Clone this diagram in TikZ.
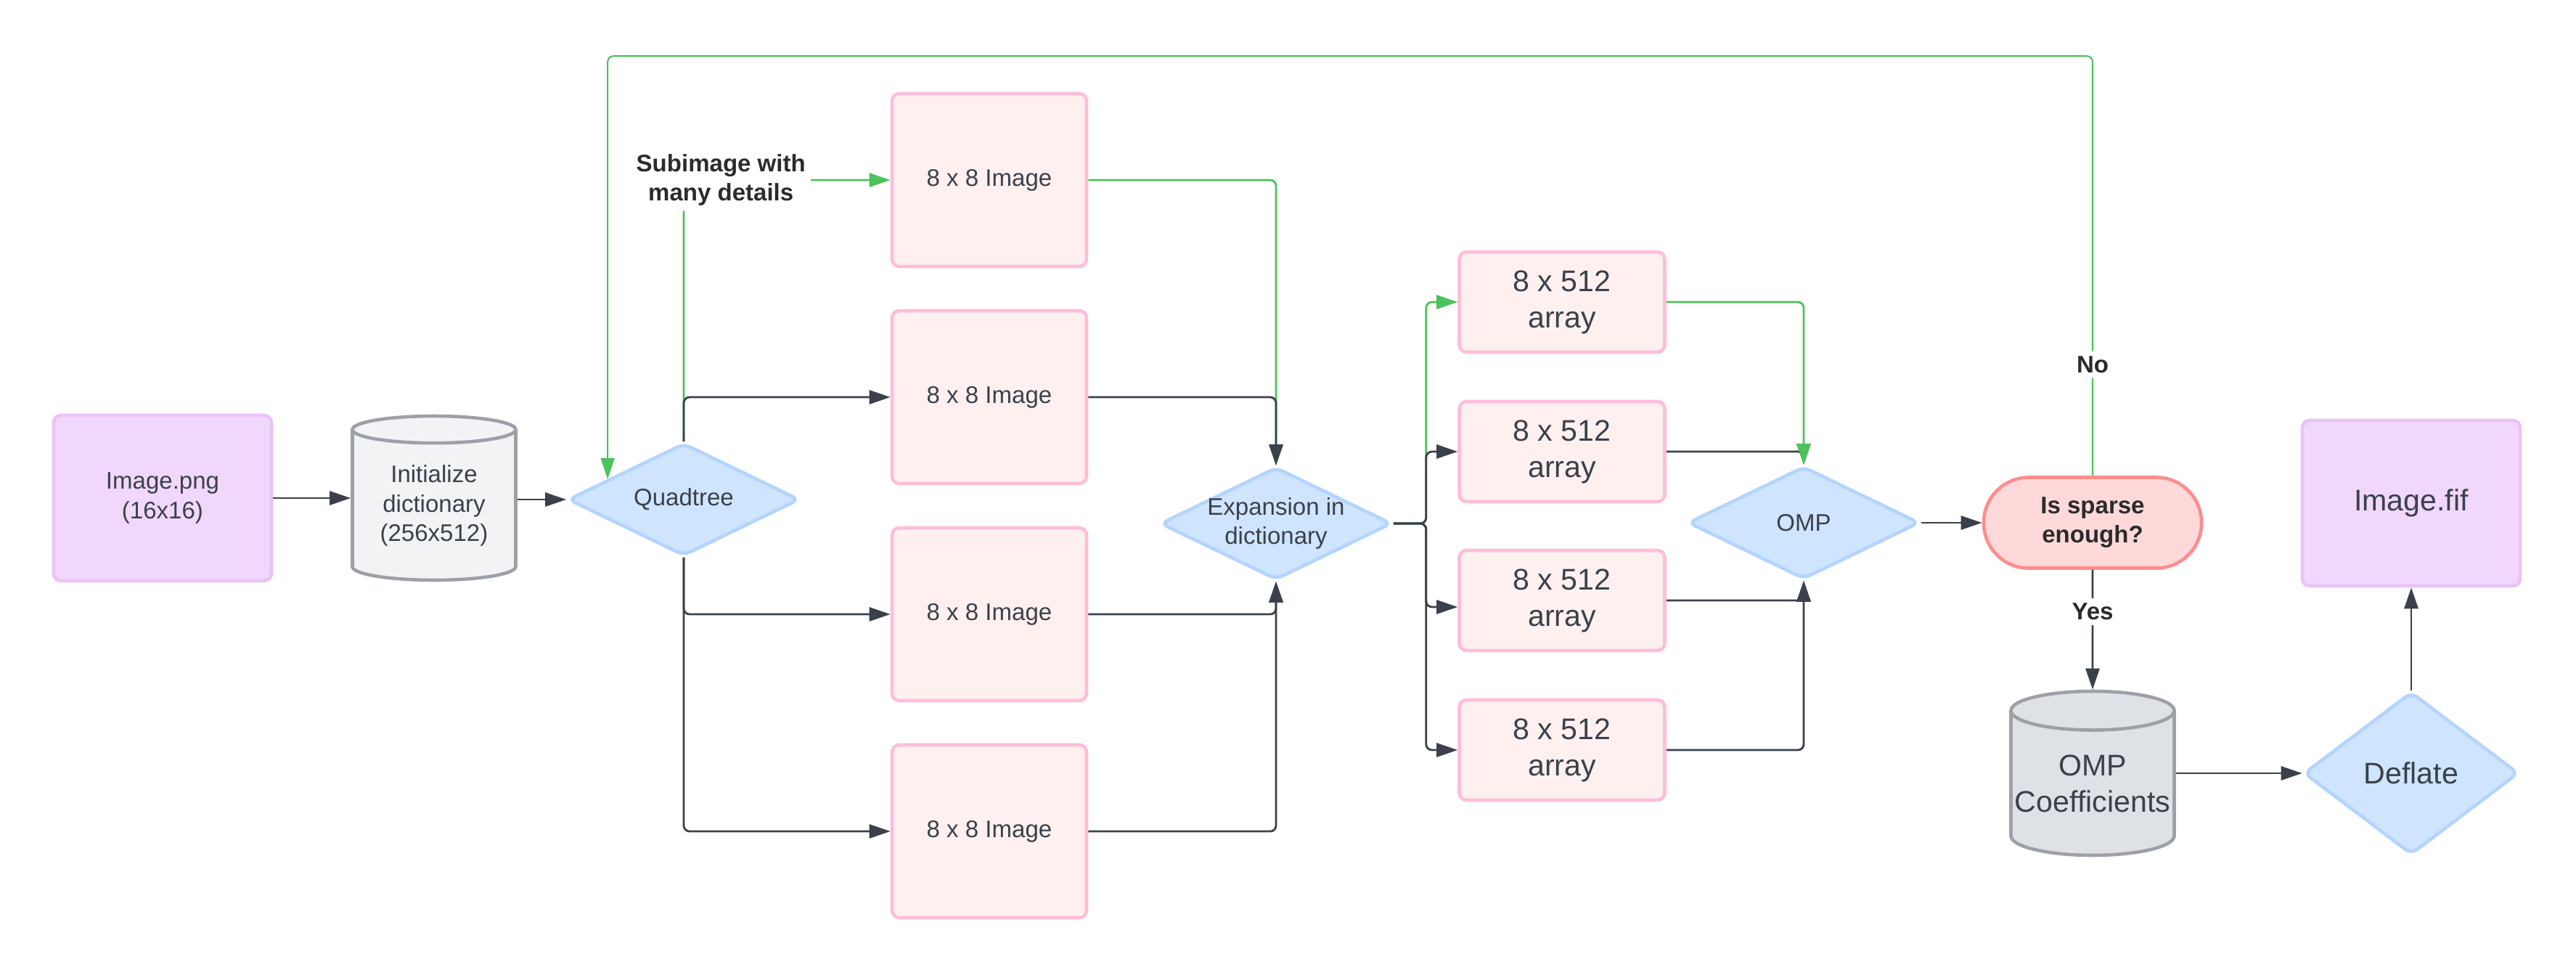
\documentclass[tikz,border=0pt]{standalone}
\usepackage{fontspec}
\setmainfont{Liberation Sans}
\usetikzlibrary{shapes.geometric,arrows.meta,positioning,calc}
\definecolor{txtdark}{HTML}{3A414A}
\definecolor{lbldark}{HTML}{2B2B2B}
\definecolor{linedark}{HTML}{3A414A}
\definecolor{linegreen}{HTML}{4CC25A}
\definecolor{pinkfill}{HTML}{FFF0F0}
\definecolor{pinkedge}{HTML}{FFBDDA}
\definecolor{purpfill}{HTML}{F2D7FD}
\definecolor{purpedge}{HTML}{EAC2F8}
\definecolor{bluefill}{HTML}{CFE4FF}
\definecolor{blueedge}{HTML}{B3D4FF}
\definecolor{cylfill}{HTML}{F2F3F5}
\definecolor{cylfilldark}{HTML}{DEE1E6}
\definecolor{cyledge}{HTML}{9CA1A8}
\definecolor{redfill}{HTML}{FFD9D9}
\definecolor{rededge}{HTML}{FF8C8C}

\begin{document}
\begin{tikzpicture}[
    font=\fontsize{9.4}{11.4}\selectfont, text=txtdark,
    every node/.style={align=center},
    bigtext/.style={font=\fontsize{11.7}{14.2}\selectfont},
    imgbox/.style={draw=pinkedge, fill=pinkfill, line width=1.3pt, rounded corners=1mm,
        minimum width=2.68cm, minimum height=2.38cm},
    arraybox/.style={imgbox, bigtext, minimum width=2.83cm, minimum height=1.38cm},
    filebox/.style={draw=purpedge, fill=purpfill, line width=1.3pt, rounded corners=1mm,
        minimum width=3.0cm, minimum height=2.28cm},
    decision/.style={diamond, aspect=2, draw=blueedge, fill=bluefill, line width=1.3pt, rounded corners=1mm,
        inner sep=-2mm, minimum width=3.19cm, minimum height=1.55cm},
    store/.style={cylinder, shape border rotate=90, aspect=0.25, draw=cyledge, fill=cylfill,
        line width=1.3pt, inner xsep=0pt, minimum width=2.25cm, minimum height=2.26cm, anchor=shape center},
    test/.style={draw=rededge, fill=redfill, line width=1.3pt, rounded corners=6.2mm,
        minimum width=3.0cm, minimum height=1.25cm, font=\bfseries\fontsize{9.4}{11.4}\selectfont, text=lbldark},
    conn/.style={draw=linedark, line width=0.8pt, rounded corners=0.8mm,
        -{Triangle[length=2.9mm,width=1.9mm]}},
    greenconn/.style={conn, draw=linegreen},
    lbl/.style={fill=white, inner sep=2pt, text=lbldark, font=\bfseries\fontsize{9.4}{11.4}\selectfont}
    ]
    \useasboundingbox (0,0) rectangle (35.49,-13.35);

    % Image compression flow
    \node[filebox] (imgpng) at (2.24,-6.86) {Image.png\\(16x16)};
    \node[store] (initdict) at (5.98,-6.86) {Initialize\\dictionary\\(256x512)};
    \node[decision] (quad) at (9.42,-6.88) {Quadtree};

    \node[imgbox] (img1) at (13.63,-2.48) {8 x 8 Image};
    \node[imgbox] (img2) at (13.63,-5.47) {8 x 8 Image};
    \node[imgbox] (img3) at (13.63,-8.46) {8 x 8 Image};
    \node[imgbox] (img4) at (13.63,-11.45) {8 x 8 Image};

    \node[decision] (expn) at (17.58,-7.21) {Expansion in\\dictionary};

    \node[arraybox] (arr1) at (21.52,-4.16) {8 x 512\\array};
    \node[arraybox] (arr2) at (21.52,-6.22) {8 x 512\\array};
    \node[arraybox] (arr3) at (21.52,-8.27) {8 x 512\\array};
    \node[arraybox] (arr4) at (21.52,-10.33) {8 x 512\\array};

    \node[decision] (omp) at (24.85,-7.20) {OMP};
    \node[test] (sparse) at (28.83,-7.20) {Is sparse\\enough?};
    \node[store, bigtext, fill=cylfilldark] (coeff) at (28.83,-10.65) {OMP\\Coefficients};
    \node[decision, bigtext, minimum width=2.96cm, minimum height=2.24cm] (deflate) at (33.22,-10.65) {Deflate};
    \node[filebox, bigtext] (imgfif) at (33.22,-6.93) {Image.fif};

    \draw[conn] (imgpng.east) -- (imgpng.east -| initdict.west);
    \draw[conn] (initdict.east |- quad.west) -- (quad.west);

    % split into sub-images
    \draw[greenconn] (quad.north) |- (img1.west) node[lbl, pos=0.59] {Subimage with\\many details};
    \draw[conn] (quad.north) |- (img2.west);
    \draw[conn] (quad.south) |- (img3.west);
    \draw[conn] (quad.south) |- (img4.west);

    \draw[greenconn] (img1.east) -| (expn.north);
    \draw[conn] (img2.east) -| (expn.north);
    \draw[conn] (img3.east) -| (expn.south);
    \draw[conn] (img4.east) -| (expn.south);

    \draw[greenconn] (expn.east) -- ++(0.45,0) |- (arr1.west);
    \draw[conn] (expn.east) -- ++(0.45,0) |- (arr2.west);
    \draw[conn] (expn.east) -- ++(0.45,0) |- ([yshift=-0.09cm]arr3.west);
    \draw[conn] (expn.east) -- ++(0.45,0) |- (arr4.west);

    \draw[conn] (arr2.east) -| (omp.north);
    \draw[greenconn] (arr1.east) -| (omp.north);
    \draw[conn] (arr3.east) -| (omp.south);
    \draw[conn] (arr4.east) -| (omp.south);

    \draw[conn] (omp.east) -- (sparse.west);
    \draw[greenconn, line width=0.6pt] (sparse.north) -- ++(0,5.78) node[lbl, pos=0.265] {No} -| (quad.165);
    \draw[conn] (sparse.south) -- (coeff.north) node[lbl, pos=0.35] {Yes};
    \draw[conn] (coeff.east |- deflate.west) -- (deflate.west);
    \draw[conn] (deflate.north) -- (imgfif.south);
\end{tikzpicture}
\end{document}
